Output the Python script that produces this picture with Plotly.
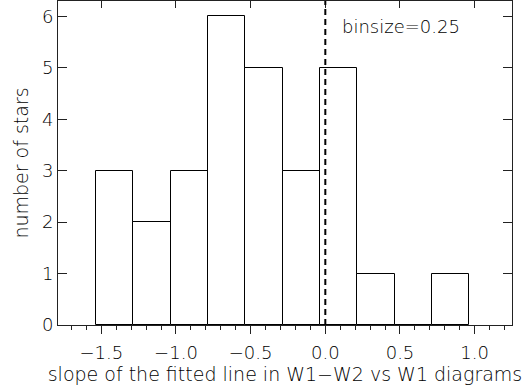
import plotly.graph_objects as go

# data
bin_start = -1.535
bin_size = 0.25
counts = [3, 2, 3, 6, 5, 3, 5, 1, 0, 1]
x_major_ticks = [-1.5, -1.0, -0.5, 0.0, 0.5, 1.0]
y_ticks = [0, 1, 2, 3, 4, 5, 6]
ref_line_x = 0.0

centers = [bin_start + bin_size * (i + 0.5) for i in range(len(counts))]

FONT = dict(family="DejaVu Sans", size=18, color="#000000", weight=200)
TFONT = dict(family="DejaVu Sans", size=19, color="#000000", weight=200)
AX = "#222222"

fig = go.Figure()
fig.add_trace(go.Bar(
    x=centers, y=counts, width=bin_size,
    marker=dict(color="white", line=dict(color="black", width=1)),
    showlegend=False, hoverinfo="skip",
))
# invisible trace to activate top axis
fig.add_trace(go.Scatter(x=[centers[0]], y=[0], xaxis="x2", mode="markers",
                         marker=dict(opacity=0), showlegend=False, hoverinfo="skip"))

fig.add_shape(type="line", xref="x", yref="paper", x0=ref_line_x, x1=ref_line_x,
              y0=0, y1=1, line=dict(color="black", width=2, dash="6px,4px"))

fig.add_annotation(text="binsize=0.25", xref="paper", yref="paper", x=0.755, y=0.92,
                   showarrow=False, font=FONT, xanchor="center", yanchor="middle")

xr = [-1.79, 1.25]
fig.update_layout(
    width=529, height=390,
    margin=dict(l=58, r=17, t=1, b=65),
    paper_bgcolor="white", plot_bgcolor="white",
    font=FONT,
    bargap=0,
    xaxis=dict(
        range=xr, tickmode="linear", tick0=0, dtick=0.5, tickformat=".1f",
        ticks="outside", ticklen=8, tickcolor=AX, tickwidth=1,
        minor=dict(dtick=0.1, tick0=0, ticks="outside", ticklen=4, tickcolor=AX),
        showline=True, linecolor=AX, linewidth=1, mirror=False,
        showgrid=False, zeroline=False, automargin=False, ticklabelstandoff=3,
        title=dict(text="slope of the fitted line in W1−W2 vs W1 diagrams", font=TFONT, standoff=4),
    ),
    xaxis2=dict(
        range=xr, overlaying="x", side="top", tickmode="linear", tick0=0, dtick=0.5,
        ticks="inside", ticklen=7, tickcolor=AX, showticklabels=False,
        showline=True, linecolor=AX, linewidth=1, showgrid=False, zeroline=False,
        automargin=False,
    ),
    yaxis=dict(
        range=[0, 6.3], tickvals=y_ticks,
        ticks="inside", ticklen=9, tickcolor=AX,
        showline=True, linecolor=AX, linewidth=1, mirror="ticks",
        showgrid=False, zeroline=False, automargin=False,
        title=dict(text="number of stars", font=TFONT, standoff=8),
    ),
)

fig.write_html("out.html", config={"displayModeBar": False},
               post_script="document.body.style.margin='0px';")
